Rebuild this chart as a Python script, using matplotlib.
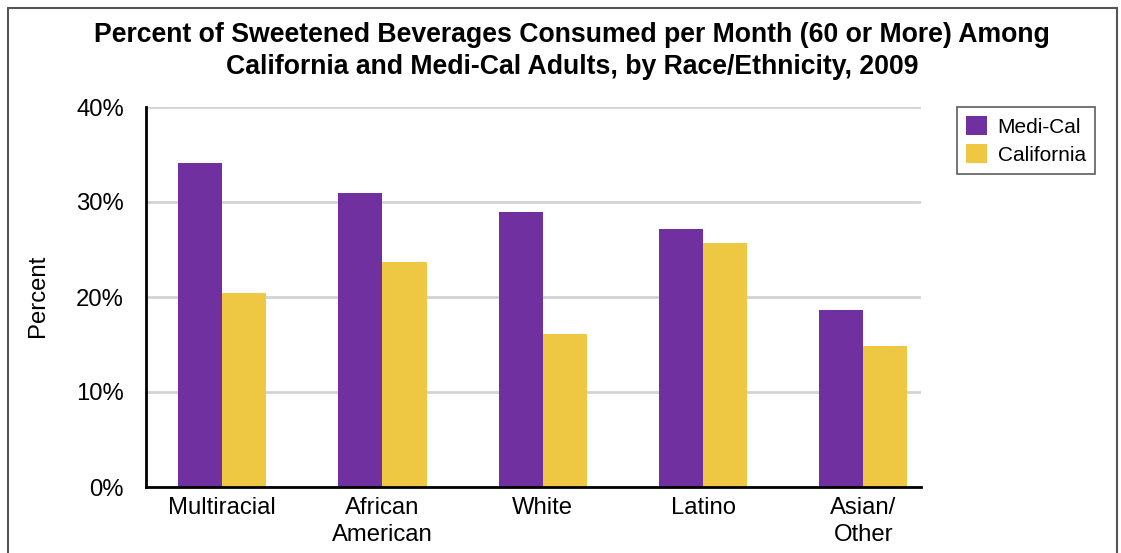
import numpy as np
import matplotlib
matplotlib.use('Agg')
import matplotlib.pyplot as plt
from matplotlib.patches import Rectangle

# data
categories = ['Multiracial', 'African\nAmerican', 'White', 'Latino', 'Asian/\nOther']
medi_cal = [34.1, 31.0, 28.9, 27.2, 18.6]
california = [20.4, 23.7, 16.1, 25.7, 14.8]
yticks = [0, 10, 20, 30, 40]
ytick_labels = ['0%', '10%', '20%', '30%', '40%']

plt.rcParams['font.family'] = ['Liberation Sans', 'DejaVu Sans']

W, H = 1121, 553
fig = plt.figure(figsize=(W / 100, H / 100), dpi=100)
ax = fig.add_axes([146 / W, 1 - 487 / H, (921 - 146) / W, (487 - 107) / H])

x = np.arange(len(categories))
bw = 0.275
ax.bar(x - bw / 2, medi_cal, bw, color='#7030a0', label='Medi-Cal', zorder=3)
ax.bar(x + bw / 2, california, bw, color='#eec843', label='California', zorder=3)

ax.set_xlim(-0.475, 4.36)
ax.set_ylim(0, 40)
ax.set_yticks(yticks)
ax.set_yticklabels(ytick_labels, fontsize=17.2)
ax.set_xticks(x)
ax.set_xticklabels(categories, fontsize=17.2, linespacing=1.3)
ax.tick_params(length=0, pad=7)
ax.tick_params(axis='y', pad=16)
ax.yaxis.grid(True, color='#d0d3d6', linewidth=2, zorder=0)
for s in ['top', 'right']:
    ax.spines[s].set_visible(False)
for s in ['left', 'bottom']:
    ax.spines[s].set_linewidth(2)
    ax.spines[s].set_color('black')
    ax.spines[s].set_zorder(4)

fig.text(38 / W, 1 - 296 / H, 'Percent', rotation=90, fontsize=17.2, ha='center', va='center')

fig.text(572 / W, 1 - 51 / H,
         'Percent of Sweetened Beverages Consumed per Month (60 or More) Among\n'
         'California and Medi-Cal Adults, by Race/Ethnicity, 2009',
         ha='center', va='center', fontsize=19.2, fontweight='bold', linespacing=1.28)

leg = ax.legend(loc='upper left', bbox_to_anchor=(957 / W, 1 - 107 / H), bbox_transform=fig.transFigure,
                fontsize=15, frameon=True, fancybox=False, handlelength=1.0, handleheight=1.0,
                borderpad=0.45, labelspacing=0.35, handletextpad=0.5, borderaxespad=0)
leg.get_frame().set_edgecolor('#333333')
leg.get_frame().set_linewidth(1.2)

fig.patches.append(Rectangle((8 / W, -0.1), (1117 - 8) / W, 1.1 - 8 / H, transform=fig.transFigure,
                             fill=False, edgecolor='#555555', linewidth=1.5))

fig.savefig('out.png', dpi=100)
